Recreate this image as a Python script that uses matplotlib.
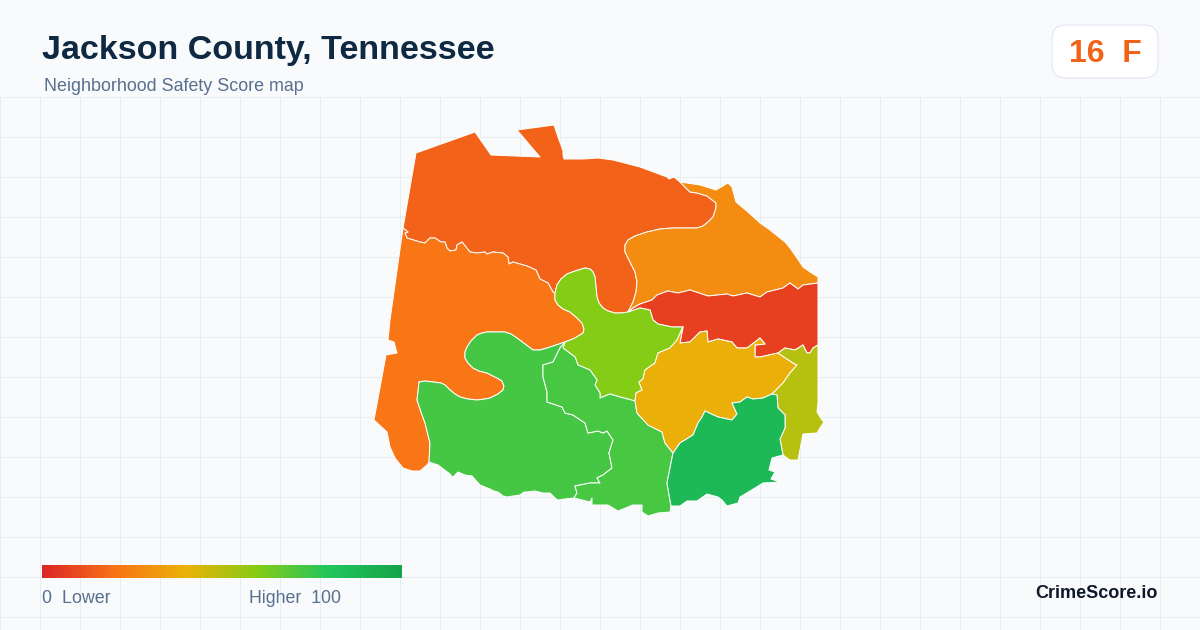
import matplotlib
matplotlib.use('Agg')
import matplotlib.pyplot as plt
import numpy as np
from matplotlib.colors import LinearSegmentedColormap
from matplotlib.patches import FancyBboxPatch, Polygon

plt.rcParams['font.family'] = ['Liberation Sans', 'DejaVu Sans']

# score scale
scale_stops = [0, 0.2, 0.4, 0.6, 0.8, 1]
scale_colors = ['#DC2626', '#F97316', '#EAB308', '#84CC16', '#22C55E', '#16A34A']

# neighborhood scores
score_north = 16
score_west = 21
score_northeast = 28
score_ridge = 7
score_center = 39
score_east = 50
score_mid = 60
score_southwest = 73
score_south = 72
score_southeast = 87

# map outline pieces
north_outer = [(403, 228), (416, 153), (475, 132), (491, 155), (540, 157), (517, 130), (554, 125),
               (559, 140), (561, 145), (563, 151), (563, 155), (564, 159), (583, 159), (598, 158), (613, 160),
               (640, 167), (667, 177), (669, 179), (674, 177), (680, 182)]
north_ne = [(680, 182), (685, 187), (690, 192), (697, 193), (707, 196), (716, 203), (716, 208), (713, 217),
            (708, 222), (703, 226), (697, 228), (690, 228), (673, 228), (660, 229), (647, 232), (635, 236),
            (628, 240), (625, 245), (625, 252), (630, 262), (635, 272), (637, 282), (636, 292), (633, 302),
            (628, 312)]
north_mid = [(628, 312), (622, 313), (615, 313), (608, 311), (603, 308), (599, 303), (597, 297), (596, 287),
             (595, 277), (593, 272), (590, 269), (585, 268), (575, 271), (567, 274), (561, 279), (557, 285),
             (555, 293)]
north_west = [(555, 293), (553, 292), (548, 283), (540, 279), (536, 270), (527, 266), (513, 262),
              (509, 264), (508, 257), (503, 253), (493, 252), (487, 254), (485, 252), (477, 253),
              (470, 252), (462, 242), (457, 245), (456, 250), (450, 251), (447, 248), (445, 242),
              (441, 242), (435, 238), (430, 238), (425, 243), (420, 242), (407, 238), (405, 233),
              (408, 232), (403, 228)]
west_outer = [(403, 228), (390, 320), (388, 340), (394, 342), (397, 353), (386, 355), (374, 420),
              (387, 432), (390, 447), (395, 458), (403, 468), (412, 471), (420, 471), (427, 465), (429, 462)]
west_sw = [(429, 462), (430, 443), (425, 423), (421, 412), (417, 400), (418, 392), (419, 382), (425, 381),
           (433, 382), (441, 383), (445, 385), (450, 390), (455, 394), (460, 397), (468, 399), (477, 400),
           (485, 399), (490, 398), (498, 394), (503, 390), (504, 386), (502, 381), (497, 378), (487, 373),
           (479, 371), (473, 368), (468, 363), (465, 358), (465, 352), (467, 347), (471, 341), (477, 335),
           (482, 333), (487, 332), (505, 332), (511, 334), (517, 338), (525, 344), (533, 350), (540, 350),
           (547, 348), (556, 345), (565, 342)]
west_mid = [(565, 342), (575, 338), (583, 333), (584, 329), (582, 323), (576, 317), (570, 312), (563, 309),
            (558, 305), (555, 300), (555, 293)]
sw_south = [(565, 342), (560, 348), (553, 362), (543, 365), (543, 377), (547, 392), (547, 402),
            (562, 407), (565, 413), (573, 415), (585, 423), (588, 433), (598, 431), (603, 433),
            (607, 431), (613, 440), (609, 453), (612, 468), (603, 475), (597, 478), (600, 483),
            (590, 483), (575, 486), (577, 493), (574, 498)]
sw_coast = [(429, 462), (438, 465), (450, 474), (457, 483), (453, 477), (458, 472), (465, 475),
            (472, 476), (480, 485), (490, 489), (494, 491), (498, 492), (503, 496), (507, 497), (513, 496),
            (520, 495), (524, 492), (527, 492), (535, 491), (543, 493), (550, 493), (555, 498), (558, 500),
            (565, 499), (574, 498)]
south_mid = [(565, 342), (563, 348), (575, 357), (578, 365), (590, 370), (597, 380), (595, 385),
             (600, 393), (600, 398), (610, 394), (620, 397), (635, 401)]
south_center = [(635, 401), (637, 413), (648, 425), (662, 432), (665, 443), (673, 453)]
south_se = [(673, 453), (667, 483), (671, 506)]
south_coast = [(574, 498), (590, 502), (592, 498), (592, 505), (608, 505), (618, 511), (633, 505),
               (642, 505), (642, 512), (648, 516), (658, 513), (670, 512), (671, 506)]
mid_ridge = [(628, 312), (640, 308), (650, 310), (653, 320), (658, 324), (672, 327), (683, 327)]
mid_center = [(683, 327), (677, 340), (670, 348), (658, 353), (655, 363), (645, 370), (643, 379),
              (639, 382), (642, 390), (636, 393), (635, 401)]
ne_ridge = [(628, 312), (633, 308), (640, 304), (652, 300), (657, 295), (668, 291), (678, 293),
            (690, 290), (708, 296), (727, 294), (733, 296), (747, 293), (760, 297), (767, 292),
            (783, 288), (790, 283), (798, 289), (803, 285), (818, 283)]
ne_outer = [(680, 182), (700, 185), (716, 190), (728, 183), (732, 187), (736, 202), (748, 212), (760, 223),
            (770, 230), (780, 238), (785, 242), (790, 248), (797, 258), (803, 267), (810, 272), (818, 277),
            (818, 283)]
ridge_center = [(683, 327), (680, 343), (690, 342), (700, 332), (707, 331), (708, 342), (718, 339),
                (732, 342), (737, 348), (747, 348), (755, 342), (760, 338), (765, 344), (755, 345),
                (755, 357), (760, 357), (778, 353)]
ridge_east = [(778, 353), (785, 348), (795, 350), (803, 345), (807, 353), (810, 353), (813, 348), (818, 345)]
ridge_outer = [(818, 283), (818, 345)]
center_east = [(778, 353), (793, 363), (797, 365), (790, 373), (783, 383), (772, 394)]
center_se = [(772, 394), (763, 398), (753, 399), (747, 397), (740, 402), (732, 403), (737, 414),
             (732, 420), (718, 417), (705, 411), (702, 417), (698, 423), (693, 435), (680, 443), (673, 453)]
east_outer = [(818, 345), (818, 403), (817, 412), (822, 420), (824, 422), (820, 428), (817, 433),
              (803, 434), (798, 460), (790, 460), (783, 455)]
east_se = [(772, 394), (777, 395), (778, 408), (785, 415), (785, 428), (780, 439), (783, 455)]
se_coast = [(783, 455), (772, 458), (769, 470), (775, 472), (771, 479), (780, 482), (763, 483),
            (755, 488), (740, 497), (738, 503), (727, 506), (722, 500), (718, 497), (707, 494),
            (697, 501), (687, 501), (680, 506), (671, 506)]

def joinPath(*parts):
    pts = []
    for p in parts:
        pts += p
    return pts

def rev(p):
    return p[::-1]

regions = [
    (score_north, joinPath(north_outer, north_ne, north_mid, north_west)),
    (score_west, joinPath(west_outer, west_sw, west_mid, north_west)),
    (score_northeast, joinPath(ne_outer, rev(ne_ridge), rev(north_ne))),
    (score_ridge, joinPath(ne_ridge, ridge_outer, rev(ridge_east), rev(ridge_center), rev(mid_ridge))),
    (score_mid, joinPath(rev(north_mid), mid_ridge, mid_center, rev(south_mid), west_mid)),
    (score_southwest, joinPath(west_sw, sw_south, rev(sw_coast))),
    (score_south, joinPath(south_mid, south_center, south_se, rev(south_coast), rev(sw_south))),
    (score_center, joinPath(ridge_center, center_east, center_se, rev(south_center), rev(mid_center))),
    (score_east, joinPath(ridge_east, east_outer, rev(east_se), rev(center_east))),
    (score_southeast, joinPath(center_se, south_se, rev(se_coast), rev(east_se))),
]

cmap = LinearSegmentedColormap.from_list('score', list(zip(scale_stops, scale_colors)))

fig = plt.figure(figsize=(12, 6.3), dpi=100, facecolor='#F8FAFC')
ax = fig.add_axes([0, 0, 1, 1])
ax.set_xlim(0, 1200)
ax.set_ylim(630, 0)
ax.axis('off')

# background grid
for x in range(0, 1200, 40):
    ax.plot([x, x], [96.5, 630], color='#E6EEF3', lw=0.72, zorder=1)
for y in range(96, 630, 40):
    ax.plot([0, 1200], [y + 0.5, y + 0.5], color='#E6EEF3', lw=0.72, zorder=1)

for score, pts in regions:
    ax.add_patch(Polygon(pts, closed=True, facecolor=cmap(score / 100), edgecolor='white',
                         linewidth=0.72, joinstyle='round', zorder=2))

# title block
ax.text(42, 59, 'Jackson County, Tennessee', fontsize=24.5, fontweight='bold', color='#0F2942',
        va='baseline', ha='left', zorder=3)
ax.text(44, 91, 'Neighborhood Safety Score map', fontsize=12.9, color='#58708F',
        va='baseline', ha='left', zorder=3)

# grade badge
ax.add_patch(FancyBboxPatch((1052, 25), 106, 53, boxstyle='round,pad=0,rounding_size=14',
                            facecolor='white', edgecolor='#E2E8F0', linewidth=0.8, zorder=3))
ax.text(1105, 62, '16  F', fontsize=23, fontweight='bold', color=cmap(score_north / 100),
        va='baseline', ha='center', zorder=4)

# legend bar
gradient = np.linspace(0, 1, 360).reshape(1, -1)
ax.imshow(gradient, cmap=cmap, extent=(42, 402, 578, 565), aspect='auto', zorder=3)
ax.set_xlim(0, 1200)
ax.set_ylim(630, 0)
ax.text(42, 603, '0  Lower', fontsize=12.9, color='#58708F', va='baseline', ha='left', zorder=3)
ax.text(341, 603, 'Higher  100', fontsize=12.8, color='#58708F', va='baseline', ha='right', zorder=3)

ax.text(1158, 598, 'CrimeScore.io', fontsize=13, fontweight='bold', color='#0F172A',
        va='baseline', ha='right', zorder=3)

fig.savefig('out.png', dpi=100, facecolor=fig.get_facecolor())
